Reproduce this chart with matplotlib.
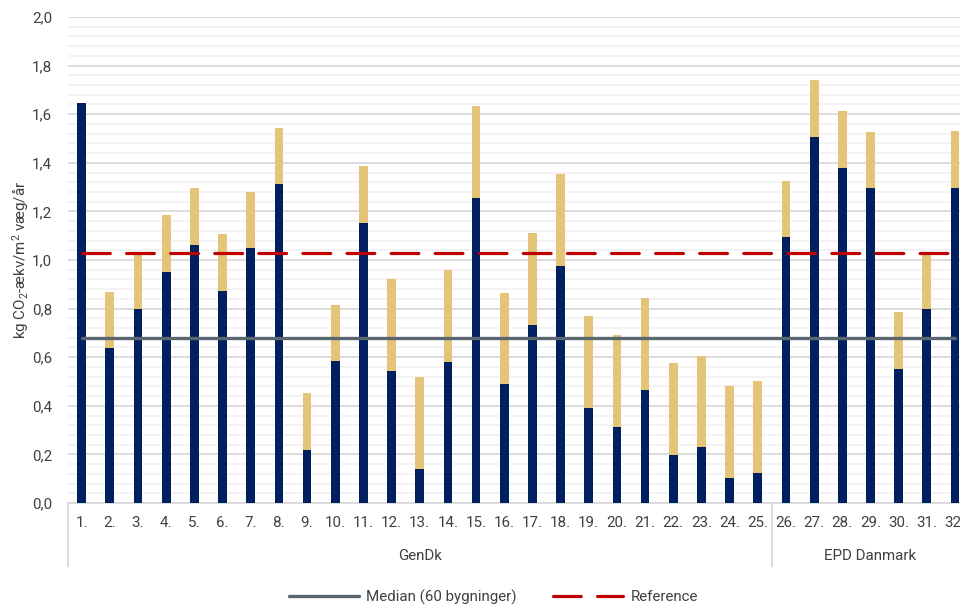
import numpy as np
import matplotlib.pyplot as plt
import matplotlib.transforms as mtransforms
from matplotlib.lines import Line2D

plt.rcParams['font.family'] = ['Roboto', 'DejaVu Sans']
plt.rcParams['mathtext.fontset'] = 'custom'
plt.rcParams['mathtext.rm'] = 'Roboto'
plt.rcParams['mathtext.it'] = 'Roboto'

# building numbers and the two stacked parts of each bar
labels = [f'{i}.' for i in range(1, 33)]
lower = [1.645, 0.639, 0.797, 0.951, 1.062, 0.872, 1.048, 1.311, 0.219, 0.583,
         1.152, 0.542, 0.139, 0.582, 1.257, 0.488, 0.731, 0.975, 0.391, 0.311,
         0.465, 0.199, 0.229, 0.103, 0.123, 1.093, 1.508, 1.380, 1.295, 0.553,
         0.797, 1.296]
total = [1.645, 0.870, 1.029, 1.184, 1.295, 1.107, 1.280, 1.543, 0.451, 0.815,
         1.385, 0.920, 0.517, 0.959, 1.635, 0.866, 1.110, 1.354, 0.768, 0.690,
         0.844, 0.577, 0.606, 0.481, 0.502, 1.325, 1.739, 1.613, 1.527, 0.785,
         1.025, 1.530]
upper = [t - l for t, l in zip(total, lower)]
median = 0.678
reference = 1.030
groups = [('GenDk', 0, 25), ('EPD Danmark', 25, 32)]

navy = '#002060'
tan = '#E4C578'
grey_line = '#5B6770'
red = '#C00000'
txt = '#404040'
fs = 10.9

fig = plt.figure(figsize=(9.6, 6.08), dpi=100)
ax = fig.add_axes([67.6 / 960, 105 / 608, 901.5 / 960, 486 / 608])

x = np.arange(len(labels))
ax.bar(x, lower, width=0.31, color=navy, zorder=3)
ax.bar(x, upper, bottom=lower, width=0.31, color=tan, zorder=3)

ax.plot(x, [median] * len(x), color=grey_line, lw=2.4, zorder=4,
        solid_capstyle='round')
ax.plot(x, [reference] * len(x), color=red, lw=2.3, zorder=4,
        dashes=(8.7, 5.1), dash_capstyle='round')

ax.set_xlim(-0.5, len(x) - 0.5)
ax.set_ylim(0, 2.0)
ax.set_yticks(np.arange(0, 2.01, 0.2))
ax.set_yticklabels([f'{v:.1f}'.replace('.', ',') for v in np.arange(0, 2.01, 0.2)],
                   fontsize=fs, color=txt)
ax.set_yticks(np.arange(0, 2.01, 0.04), minor=True)
ax.grid(axis='y', which='major', color='#D9D9D9', lw=1.3, zorder=0)
ax.grid(axis='y', which='minor', color='#F2F2F2', lw=1.3, zorder=0)
ax.tick_params(axis='y', which='both', length=0, pad=11)
ax.set_xticks([])
for s in ['top', 'right', 'left']:
    ax.spines[s].set_visible(False)
ax.spines['bottom'].set_color('#D9D9D9')
ax.spines['bottom'].set_linewidth(1.3)

ax.set_ylabel(r'kg CO$_2$-ækv/m$^2$ væg/år', fontsize=fs, color=txt, labelpad=1)

# category and group labels below the axis
trans = mtransforms.blended_transform_factory(ax.transData, ax.transAxes)
for i, lab in enumerate(labels):
    ax.text(i, -0.041, lab, transform=trans, ha='center', va='center',
            fontsize=fs, color=txt)
for name, a, b in groups:
    ax.text((a + b - 1) / 2, -0.109, name, transform=trans, ha='center',
            va='center', fontsize=fs, color=txt)
    ax.plot([a - 0.5, a - 0.5], [0, -0.13], transform=trans, color='#D9D9D9',
            lw=1.3, clip_on=False)

handles = [Line2D([], [], color=grey_line, lw=2.4, solid_capstyle='round'),
           Line2D([], [], color=red, lw=2.3, dashes=(8.7, 5.1),
                  dash_capstyle='round')]
fig.legend(handles, ['Median (60 bygninger)', 'Reference'], loc='center',
           bbox_to_anchor=(0.514, 0.018), ncol=2, frameon=False, fontsize=fs,
           handlelength=4.6, handletextpad=0.5, columnspacing=2.4,
           labelcolor=txt)

fig.savefig('out.png', dpi=100)
